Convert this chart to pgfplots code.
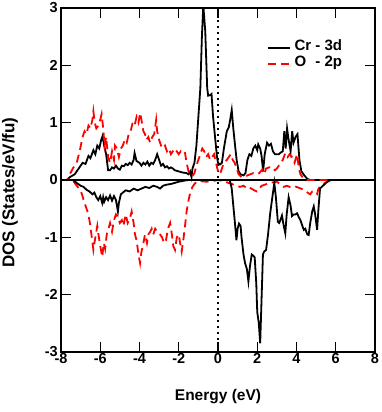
\documentclass[border=0pt]{standalone}
\usepackage{fontspec}
\setmainfont{Liberation Sans}
\usepackage{pgfplots}
\pgfplotsset{compat=1.18}

\begin{document}
\begin{tikzpicture}
\path[use as bounding box] (-61pt,-60pt) rectangle (321pt,352pt);
\begin{axis}[
    at={(0,0)}, anchor=south west,
    scale only axis,
    width=314pt, height=344pt,
    xmin=-8, xmax=8, ymin=-3, ymax=3,
    xtick={-8,-6,...,8},
    ytick={-3,-2,...,3},
    tick align=inside,
    major tick length=10pt,
    axis line style={line width=1.6pt},
    every tick/.style={black, line width=1.4pt},
    /pgf/number format/assume math mode=true,
    tick label style={font=\fontsize{14.5}{16}\selectfont\bfseries},
    xticklabel style={inner ysep=1pt},
    yticklabel style={inner xsep=3pt},
    xlabel={Energy (eV)},
    ylabel={DOS (States/eV/fu)},
    xlabel style={at={(axis description cs:0.5,0)}, anchor=north, yshift=-37pt, inner sep=0pt, font=\fontsize{15.5}{18}\selectfont\bfseries},
    ylabel style={at={([xshift=-51pt]axis description cs:0,0.4637)}, anchor=center, inner sep=0pt, font=\fontsize{17}{20}\selectfont\bfseries},
    legend style={draw=none, fill=none, at={(0.655,0.903)}, anchor=north west,
        inner sep=0pt, row sep=3.6pt, column sep=2pt,
        font=\fontsize{15}{17}\selectfont\bfseries,
        nodes={inner ysep=1.5pt, text depth=0.21em, text height=0.75em}},
    legend cell align=left,
    legend image code/.code={\draw[#1] (0pt,0pt) -- (22pt,0pt);},
]
% zero line and Fermi level
\addplot[black, line width=1.8pt, forget plot] coordinates {(-8,0) (8,0)};
\addplot[black, line width=1.8pt, dash pattern=on 1.8pt off 4.2pt, forget plot] coordinates {(0,-3) (0,3)};

\addlegendimage{black, line width=1.8pt}
\addlegendentry{\makebox[1.11em][l]{Cr}\ -\ 3d}
\addlegendimage{red, line width=1.8pt, dash pattern=on 8pt off 5pt}
\addlegendentry{\makebox[1.11em][l]{O}\ -\ 2p}

% Cr 3d, spin up
\addplot[black, line width=1.8pt, forget plot] coordinates {
(-8,0) (-7.7,0) (-7.55,0.05) (-7.3,0.1) (-7.1,0.2) (-6.9,0.3) (-6.75,0.28) (-6.6,0.42)
(-6.5,0.38) (-6.35,0.52) (-6.25,0.45) (-6.15,0.6) (-6.05,0.55) (-5.95,0.7) (-5.88,0.77)
(-5.8,0.6) (-5.7,0.45) (-5.6,0.17) (-5.5,0.17) (-5.4,0.22) (-5.3,0.2) (-5.2,0.25) (-5.1,0.2)
(-5.0,0.18) (-4.9,0.25) (-4.8,0.24) (-4.7,0.28) (-4.6,0.26) (-4.5,0.3) (-4.4,0.27) (-4.3,0.35)
(-4.25,0.47) (-4.15,0.33) (-4.0,0.3) (-3.9,0.25) (-3.8,0.3) (-3.7,0.27) (-3.6,0.32) (-3.5,0.25)
(-3.4,0.3) (-3.3,0.28) (-3.2,0.35) (-3.1,0.45) (-3.0,0.35) (-2.9,0.25) (-2.8,0.28) (-2.7,0.22)
(-2.6,0.24) (-2.5,0.2) (-2.4,0.22) (-2.3,0.2) (-2.2,0.17) (-2.0,0.15) (-1.8,0.13) (-1.6,0.12)
(-1.5,0.1) (-1.42,0.15) (-1.35,0.05) (-1.3,0.2) (-1.2,0.3) (-1.1,0.6) (-1.0,1.1) (-0.9,1.6)
(-0.82,2.5) (-0.75,3.05) (-0.65,2.6) (-0.55,1.6) (-0.5,1.47) (-0.4,1.48) (-0.33,1.5)
(-0.25,1.1) (-0.15,0.75) (-0.05,0.4) (0.0,0.3) (0.1,0.27) (0.2,0.3) (0.3,0.55) (0.45,0.85)
(0.55,0.92) (0.62,1.05) (0.7,1.22) (0.78,0.9) (0.87,0.6) (0.95,0.35) (1.05,0.15) (1.15,0.1)
(1.3,0.08) (1.4,0.12) (1.5,0.35) (1.6,0.45) (1.7,0.42) (1.8,0.55) (1.9,0.6) (2.0,0.52)
(2.05,0.62) (2.15,0.55) (2.22,0.42) (2.3,0.15) (2.38,0.45) (2.5,0.65) (2.6,0.6) (2.7,0.63)
(2.8,0.5) (2.9,0.45) (3.0,0.45) (3.1,0.45) (3.2,0.48) (3.3,0.5) (3.38,0.85) (3.45,0.55)
(3.52,0.9) (3.6,0.7) (3.7,0.5) (3.78,0.85) (3.85,0.65) (3.95,0.75) (4.05,0.8) (4.15,0.35)
(4.25,0.15) (4.4,0.08) (4.55,0.02) (4.7,0) (8,0)
};

% O 2p, spin up
\addplot[red, line width=1.8pt, dash pattern=on 8pt off 5pt, forget plot] coordinates {
(-8,0) (-7.7,0) (-7.55,0.1) (-7.4,0.2) (-7.2,0.3) (-7.05,0.5) (-6.9,0.75) (-6.8,0.85)
(-6.7,0.8) (-6.6,0.95) (-6.5,0.9) (-6.4,1.05) (-6.35,1.2) (-6.28,1.0) (-6.2,0.9) (-6.1,0.95)
(-6.0,1.05) (-5.93,1.15) (-5.85,0.9) (-5.78,0.6) (-5.7,0.75) (-5.6,0.4) (-5.5,0.3) (-5.4,0.5)
(-5.3,0.35) (-5.25,0.6) (-5.15,0.55) (-5.05,0.4) (-4.95,0.55) (-4.85,0.6) (-4.75,0.7)
(-4.65,0.65) (-4.55,0.8) (-4.45,0.85) (-4.35,1.0) (-4.25,0.95) (-4.15,1.1) (-4.05,1.0)
(-3.97,1.17) (-3.9,1.05) (-3.8,0.85) (-3.72,0.8) (-3.65,0.7) (-3.55,0.75) (-3.46,0.65)
(-3.35,0.75) (-3.25,0.8) (-3.15,1.05) (-3.1,0.85) (-3.0,0.7) (-2.9,0.6) (-2.8,0.55) (-2.7,0.6)
(-2.6,0.5) (-2.5,0.55) (-2.4,0.45) (-2.3,0.5) (-2.2,0.55) (-2.1,0.5) (-2.0,0.45) (-1.9,0.5)
(-1.8,0.45) (-1.68,0.47) (-1.6,0.3) (-1.5,0.15) (-1.4,0.1) (-1.3,0.07) (-1.2,0.12) (-1.1,0.25)
(-1.0,0.35) (-0.9,0.45) (-0.8,0.55) (-0.7,0.5) (-0.6,0.4) (-0.5,0.45) (-0.4,0.35) (-0.3,0.4)
(-0.2,0.45) (-0.1,0.3) (0.0,0.15) (0.1,0.1) (0.2,0.2) (0.3,0.3) (0.45,0.35) (0.55,0.4)
(0.65,0.45) (0.75,0.35) (0.85,0.3) (0.95,0.2) (1.05,0.1) (1.2,0.05) (1.35,0.06) (1.5,0.08)
(1.65,0.1) (1.8,0.12) (1.95,0.1) (2.1,0.12) (2.25,0.18) (2.35,0.1) (2.45,0.2) (2.6,0.22)
(2.75,0.23) (2.9,0.17) (3.0,0.2) (3.1,0.25) (3.2,0.3) (3.3,0.35) (3.43,0.47) (3.55,0.4)
(3.65,0.45) (3.77,0.4) (3.9,0.3) (4.03,0.45) (4.12,0.2) (4.2,0.1) (4.35,0.03) (4.5,0) (8,0)
};

% O 2p, spin down
\addplot[red, line width=1.8pt, dash pattern=on 8pt off 5pt, forget plot] coordinates {
(-8,0) (-7.5,0) (-7.35,-0.03) (-7.15,-0.12) (-6.95,-0.23) (-6.8,-0.4) (-6.65,-0.55)
(-6.55,-0.7) (-6.45,-0.95) (-6.35,-1.22) (-6.25,-1.0) (-6.15,-0.8) (-6.1,-0.93) (-6.0,-1.15)
(-5.9,-1.34) (-5.82,-1.1) (-5.75,-1.2) (-5.67,-0.95) (-5.58,-0.85) (-5.5,-0.75) (-5.4,-0.9)
(-5.3,-0.7) (-5.2,-0.6) (-5.1,-0.65) (-5.0,-0.75) (-4.9,-0.7) (-4.82,-0.8) (-4.7,-0.6)
(-4.6,-0.75) (-4.48,-0.66) (-4.4,-0.55) (-4.3,-0.75) (-4.23,-0.95) (-4.15,-1.05) (-4.05,-1.3)
(-3.97,-1.45) (-3.9,-1.25) (-3.8,-1.1) (-3.72,-0.95) (-3.62,-1.1) (-3.55,-0.95) (-3.45,-0.9)
(-3.38,-0.85) (-3.3,-0.95) (-3.2,-0.85) (-3.1,-0.9) (-2.95,-0.95) (-2.85,-1.0) (-2.75,-1.1)
(-2.65,-1.05) (-2.55,-0.85) (-2.44,-0.75) (-2.35,-0.95) (-2.28,-1.15) (-2.19,-1.22)
(-2.1,-1.0) (-2.0,-0.95) (-1.93,-1.1) (-1.85,-1.25) (-1.75,-1.0) (-1.68,-0.8) (-1.6,-0.55)
(-1.5,-0.35) (-1.42,-0.23) (-1.3,-0.12) (-1.2,-0.07) (-1.08,-0.03) (-0.9,-0.02) (-0.6,-0.03)
(-0.3,-0.02) (0,0) (0.3,-0.02) (0.6,-0.06) (0.8,-0.08) (1.0,-0.1) (1.12,-0.12) (1.3,-0.1)
(1.45,-0.14) (1.55,-0.12) (1.7,-0.15) (1.85,-0.18) (1.98,-0.2) (2.1,-0.15) (2.23,-0.1)
(2.4,-0.08) (2.55,-0.06) (2.66,-0.05) (2.8,-0.04) (3.0,-0.03) (3.2,-0.08) (3.35,-0.12)
(3.51,-0.1) (3.65,-0.12) (3.86,-0.1) (4.0,-0.12) (4.15,-0.14) (4.37,-0.17) (4.5,-0.2)
(4.6,-0.23) (4.7,-0.25) (4.8,-0.2) (4.96,-0.2) (5.05,-0.24) (5.12,-0.15) (5.25,-0.1)
(5.37,-0.07) (5.5,-0.04) (5.7,-0.01) (5.9,0) (8,0)
};

% Cr 3d, spin down
\addplot[black, line width=1.8pt, forget plot] coordinates {
(-8,0) (-7.4,0) (-7.2,-0.05) (-7.0,-0.1) (-6.85,-0.12) (-6.7,-0.17) (-6.55,-0.2) (-6.4,-0.25)
(-6.3,-0.22) (-6.2,-0.3) (-6.1,-0.35) (-6.0,-0.28) (-5.9,-0.4) (-5.85,-0.3) (-5.8,-0.38)
(-5.7,-0.3) (-5.6,-0.35) (-5.5,-0.27) (-5.4,-0.36) (-5.3,-0.28) (-5.2,-0.35) (-5.1,-0.55)
(-5.05,-0.4) (-4.95,-0.25) (-4.85,-0.22) (-4.7,-0.18) (-4.5,-0.2) (-4.3,-0.15) (-4.1,-0.18)
(-3.9,-0.15) (-3.7,-0.12) (-3.5,-0.14) (-3.3,-0.1) (-3.1,-0.12) (-2.95,-0.15) (-2.8,-0.1)
(-2.6,-0.08) (-2.4,-0.07) (-2.2,-0.05) (-2.0,-0.03) (-1.7,-0.01) (-1.5,0) (0.6,0) (0.7,-0.15)
(0.77,-0.41) (0.85,-0.7) (0.94,-1.05) (1.0,-0.85) (1.07,-0.76) (1.15,-0.8) (1.2,-1.0)
(1.3,-1.3) (1.38,-1.45) (1.47,-1.55) (1.55,-1.77) (1.63,-1.5) (1.72,-1.3) (1.8,-1.32)
(1.87,-1.35) (1.95,-1.8) (2.0,-2.3) (2.08,-2.5) (2.15,-2.85) (2.2,-2.3) (2.29,-1.3)
(2.35,-1.25) (2.45,-1.22) (2.55,-0.95) (2.66,-0.58) (2.75,-0.35) (2.87,-0.05) (2.95,-0.3)
(3.05,-0.73) (3.12,-0.75) (3.2,-0.68) (3.26,-0.62) (3.35,-0.8) (3.43,-0.93) (3.5,-0.6)
(3.6,-0.3) (3.7,-0.45) (3.77,-0.63) (3.85,-0.6) (3.95,-0.6) (4.03,-0.58) (4.12,-0.65)
(4.2,-0.7) (4.3,-0.8) (4.37,-0.87) (4.45,-0.85) (4.55,-0.95) (4.62,-0.96) (4.7,-0.75)
(4.8,-0.55) (4.88,-0.46) (4.95,-0.6) (5.05,-0.87) (5.12,-0.5) (5.2,-0.15) (5.35,-0.1)
(5.5,-0.05) (5.7,0) (8,0)
};
\end{axis}
\end{tikzpicture}
\end{document}
